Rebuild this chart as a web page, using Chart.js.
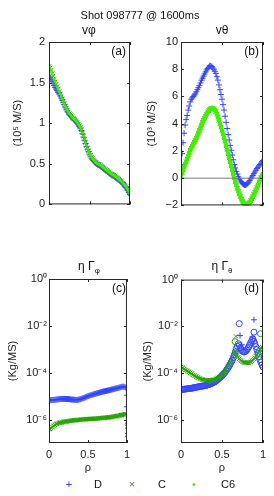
<!DOCTYPE html>
<html lang="en">
<head>
    <meta charset="UTF-8">
    <title>Shot 098777 @ 1600ms</title>
    <script src="https://cdn.jsdelivr.net/npm/chart.js"></script>
    <style>
        body {
            margin: 0;
            background: #fff;
            font-family: "Liberation Sans", Arial, sans-serif;
            color: #000;
            -webkit-font-smoothing: antialiased;
        }
        #page {
            position: relative;
            width: 274px;
            height: 496px;
            overflow: hidden;
        }
        canvas, .txt {
            position: absolute;
        }
        .txt {
            white-space: nowrap;
            line-height: 14px;
            height: 14px;
            color: #111;
            will-change: transform;
        }
        .ttl {
            font-size: 12px;
            width: 120px;
            text-align: center;
        }
        .tag {
            font-size: 12px;
            width: 30px;
            text-align: right;
        }
        .leg {
            font-size: 11px;
            width: 30px;
            text-align: center;
        }
        sub { font-size: 8px; vertical-align: -3px; line-height: 0; }
    </style>
</head>
<body>
<div id="page">
    <div class="txt ttl" style="left:80px;top:8px;width:120px;font-size:11px">Shot 098777 @ 1600ms</div>
    <div class="txt ttl" style="left:29px;top:23px">vφ</div>
    <div class="txt ttl" style="left:162px;top:23px">vθ</div>
    <div class="txt ttl" style="left:29px;top:259px">η Γ<sub>φ</sub></div>
    <div class="txt ttl" style="left:162px;top:259px">η Γ<sub>θ</sub></div>

    <canvas id="cA" width="135" height="185" style="left:0;top:30px"></canvas>
    <canvas id="cB" width="139" height="185" style="left:135px;top:30px"></canvas>
    <canvas id="cC" width="135" height="206" style="left:0;top:270px"></canvas>
    <canvas id="cD" width="139" height="206" style="left:135px;top:270px"></canvas>

    <div class="txt tag" style="left:96px;top:44px">(a)</div>
    <div class="txt tag" style="left:229px;top:44px">(b)</div>
    <div class="txt tag" style="left:96px;top:281px">(c)</div>
    <div class="txt tag" style="left:229px;top:281px">(d)</div>

    <div class="txt leg" style="left:54px;top:477px;color:#3344ff">+</div>
    <div class="txt leg" style="left:83px;top:477px">D</div>
    <div class="txt leg" style="left:117px;top:477px;color:#22a300">×</div>
    <div class="txt leg" style="left:147px;top:477px">C</div>
    <div class="txt leg" style="left:179px;top:477px;color:#44ee00">•</div>
    <div class="txt leg" style="left:213px;top:477px">C6</div>
</div>

<script>
    // radial coordinate (rho) shared by the profiles
    const rho = [0, 0.0125, 0.025, 0.0375, 0.05, 0.0625, 0.075, 0.0875, 0.1, 0.1125, 0.125, 0.1375, 0.15, 0.1625,
        0.175, 0.1875, 0.2, 0.2125, 0.225, 0.2375, 0.25, 0.2625, 0.275, 0.2875, 0.3, 0.3125, 0.325, 0.3375, 0.35,
        0.3625, 0.375, 0.3875, 0.4, 0.4125, 0.425, 0.4375, 0.45, 0.4625, 0.475, 0.4875, 0.5, 0.5125, 0.525, 0.5375,
        0.55, 0.5625, 0.575, 0.5875, 0.6, 0.6125, 0.625, 0.6375, 0.65, 0.6625, 0.675, 0.6875, 0.7, 0.7125, 0.725,
        0.7375, 0.75, 0.7625, 0.775, 0.7875, 0.8, 0.8125, 0.825, 0.8375, 0.85, 0.8625, 0.875, 0.8875, 0.9, 0.9125,
        0.925, 0.9375, 0.95, 0.9625, 0.975, 0.9875, 1.0];

    // (a) v_phi, 10^5 m/s
    const vphiD = [1.58, 1.56, 1.54, 1.515, 1.49, 1.465, 1.44, 1.42, 1.40, 1.38, 1.36, 1.335, 1.31, 1.285, 1.26, 1.23,
        1.20, 1.175, 1.15, 1.13, 1.11, 1.095, 1.08, 1.065, 1.05, 1.04, 1.03, 1.015, 1.0, 0.98, 0.96, 0.94, 0.91, 0.87,
        0.83, 0.79, 0.75, 0.715, 0.68, 0.65, 0.62, 0.595, 0.57, 0.555, 0.54, 0.525, 0.51, 0.50, 0.49, 0.485, 0.48,
        0.47, 0.46, 0.45, 0.44, 0.43, 0.42, 0.41, 0.40, 0.39, 0.38, 0.37, 0.36, 0.355, 0.35, 0.34, 0.33, 0.32, 0.31,
        0.30, 0.29, 0.28, 0.27, 0.255, 0.24, 0.225, 0.21, 0.19, 0.17, 0.145, 0.12];
    const vphiC = [1.70, 1.68, 1.65, 1.61, 1.58, 1.54, 1.51, 1.48, 1.45, 1.42, 1.39, 1.36, 1.33, 1.30, 1.27, 1.24,
        1.21, 1.185, 1.16, 1.14, 1.12, 1.105, 1.09, 1.075, 1.06, 1.05, 1.04, 1.025, 1.01, 0.99, 0.97, 0.95, 0.92, 0.88,
        0.84, 0.80, 0.76, 0.725, 0.69, 0.66, 0.63, 0.605, 0.58, 0.565, 0.55, 0.535, 0.52, 0.51, 0.50, 0.495, 0.49,
        0.48, 0.47, 0.46, 0.45, 0.44, 0.43, 0.42, 0.41, 0.40, 0.39, 0.38, 0.37, 0.365, 0.36, 0.35, 0.34, 0.33, 0.32,
        0.31, 0.30, 0.29, 0.28, 0.265, 0.25, 0.235, 0.22, 0.20, 0.18, 0.155, 0.13];
    const vphiC6 = vphiC;

    // (b) v_theta, 10^3 m/s
    const vthD = [1.0, 1.8, 2.6, 3.3, 3.9, 4.3, 4.6, 5.0, 5.3, 5.6, 5.8, 5.9, 6.0, 6.1, 6.2, 6.35, 6.5, 6.65, 6.8,
        7.0, 7.2, 7.35, 7.5, 7.65, 7.8, 7.95, 8.05, 8.15, 8.25, 8.25, 8.2, 8.1, 8.0, 7.85, 7.7, 7.45, 7.2, 6.85, 6.5,
        6.15, 5.8, 5.4, 5.0, 4.55, 4.1, 3.65, 3.2, 2.8, 2.4, 2.05, 1.7, 1.35, 1.0, 0.75, 0.5, 0.3, 0.1, -0.05, -0.2,
        -0.3, -0.4, -0.45, -0.5, -0.5, -0.45, -0.4, -0.3, -0.18, -0.05, 0.08, 0.2, 0.33, 0.45, 0.58, 0.7, 0.8, 0.9,
        1.0, 1.1, 1.2, 1.3];
    const vthC = [0.2, 0.4, 0.6, 0.8, 1.0, 1.2, 1.4, 1.6, 1.85, 2.05, 2.2, 2.35, 2.5, 2.65, 2.8, 2.95, 3.1, 3.3, 3.5,
        3.7, 3.9, 4.1, 4.25, 4.4, 4.55, 4.7, 4.85, 4.95, 5.05, 5.1, 5.15, 5.15, 5.1, 5.0, 4.9, 4.7, 4.5, 4.25, 4.0,
        3.75, 3.5, 3.25, 2.95, 2.7, 2.4, 2.1, 1.8, 1.5, 1.2, 0.9, 0.6, 0.3, 0.0, -0.25, -0.5, -0.75, -0.95, -1.15,
        -1.35, -1.55, -1.7, -1.8, -1.9, -1.95, -1.95, -1.9, -1.85, -1.75, -1.65, -1.5, -1.35, -1.2, -1.05, -0.9,
        -0.7, -0.5, -0.3, -0.12, 0.05, 0.18, 0.3];
    const vthC6 = vthC;
    const zeroX = [0, 1];
    const zeroY = [0, 0];

    // (c) eta Gamma_phi, kg/(m s)
    const gphiD = [7.0e-6, 6.9e-6, 6.8e-6, 6.85e-6, 6.9e-6, 6.95e-6, 7.0e-6, 7.1e-6, 7.2e-6, 7.3e-6, 7.4e-6, 7.5e-6,
        7.6e-6, 7.6e-6, 7.6e-6, 7.6e-6, 7.6e-6, 7.55e-6, 7.5e-6, 7.5e-6, 7.5e-6, 7.4e-6, 7.3e-6, 7.2e-6, 7.1e-6,
        7.05e-6, 7.0e-6, 6.95e-6, 6.9e-6, 6.95e-6, 7.0e-6, 7.2e-6, 7.4e-6, 7.6e-6, 7.9e-6, 8.2e-6, 8.5e-6, 8.8e-6,
        9.2e-6, 9.6e-6, 1.0e-5, 1.03e-5, 1.07e-5, 1.1e-5, 1.13e-5, 1.16e-5, 1.2e-5, 1.24e-5, 1.28e-5, 1.31e-5,
        1.35e-5, 1.38e-5, 1.42e-5, 1.46e-5, 1.5e-5, 1.54e-5, 1.58e-5, 1.61e-5, 1.65e-5, 1.68e-5, 1.72e-5, 1.76e-5,
        1.8e-5, 1.85e-5, 1.9e-5, 1.95e-5, 2.0e-5, 2.05e-5, 2.1e-5, 2.15e-5, 2.2e-5, 2.25e-5, 2.3e-5, 2.38e-5,
        2.45e-5, 2.5e-5, 2.55e-5, 2.5e-5, 2.4e-5, 2.3e-5, 1.1e-5];
    const gphiC = [3.8e-7, 4.0e-7, 4.3e-7, 4.7e-7, 5.1e-7, 5.5e-7, 5.9e-7, 6.3e-7, 6.6e-7, 6.9e-7, 7.1e-7, 7.3e-7,
        7.5e-7, 7.65e-7, 7.8e-7, 7.9e-7, 8.0e-7, 8.15e-7, 8.3e-7, 8.45e-7, 8.6e-7, 8.75e-7, 8.9e-7, 9.0e-7, 9.1e-7,
        9.2e-7, 9.3e-7, 9.4e-7, 9.5e-7, 9.6e-7, 9.7e-7, 9.8e-7, 9.9e-7, 9.95e-7, 1.0e-6, 1.01e-6, 1.02e-6, 1.03e-6,
        1.04e-6, 1.045e-6, 1.05e-6, 1.055e-6, 1.06e-6, 1.065e-6, 1.07e-6, 1.08e-6, 1.09e-6, 1.095e-6, 1.1e-6,
        1.11e-6, 1.12e-6, 1.13e-6, 1.14e-6, 1.15e-6, 1.16e-6, 1.17e-6, 1.18e-6, 1.19e-6, 1.2e-6, 1.21e-6, 1.22e-6,
        1.235e-6, 1.25e-6, 1.265e-6, 1.28e-6, 1.3e-6, 1.32e-6, 1.34e-6, 1.36e-6, 1.39e-6, 1.42e-6, 1.45e-6, 1.48e-6,
        1.52e-6, 1.55e-6, 1.58e-6, 1.62e-6, 1.66e-6, 1.7e-6, 1.72e-6, 8.0e-7];
    const gphiDEdgeX = [1.0];
    const gphiDEdgeY = [3.5e-6];
    const gphiCEdgeX = [1.0, 1.0];
    const gphiCEdgeY = [5.0e-7, 2.2e-7];

    // (d) eta Gamma_theta, kg/(m s)
    const gthD = [2.0e-5, 2.0e-5, 2.0e-5, 2.02e-5, 2.05e-5, 2.07e-5, 2.1e-5, 2.12e-5, 2.15e-5, 2.17e-5, 2.2e-5,
        2.25e-5, 2.3e-5, 2.35e-5, 2.4e-5, 2.45e-5, 2.5e-5, 2.55e-5, 2.6e-5, 2.65e-5, 2.7e-5, 2.75e-5, 2.8e-5,
        2.85e-5, 2.9e-5, 3.0e-5, 3.1e-5, 3.2e-5, 3.3e-5, 3.45e-5, 3.6e-5, 3.8e-5, 4.0e-5, 4.2e-5, 4.5e-5, 4.9e-5,
        5.3e-5, 5.8e-5, 6.3e-5, 6.9e-5, 7.6e-5, 8.5e-5, 9.5e-5, 1.08e-4, 1.25e-4, 1.45e-4, 1.7e-4, 2.0e-4, 2.4e-4,
        2.9e-4, 3.5e-4, 4.5e-4, 6.0e-4, 8.0e-4, 1.1e-3, 1.4e-3, 1.8e-3, 1.5e-3, 1.2e-3, 1.0e-3, 8.5e-4, 8.0e-4,
        8.0e-4, 8.5e-4, 9.5e-4, 1.1e-3, 1.3e-3, 1.6e-3, 2.0e-3, 2.4e-3, 2.9e-3, 2.3e-3, 1.8e-3, 1.35e-3, 1.0e-3,
        7.0e-4, 5.0e-4, 3.7e-4, 2.8e-4, 2.2e-4, 1.8e-4];
    const gthC = [1.8e-4, 1.7e-4, 1.6e-4, 1.5e-4, 1.4e-4, 1.32e-4, 1.25e-4, 1.17e-4, 1.1e-4, 1.02e-4, 9.5e-5, 8.9e-5,
        8.3e-5, 7.8e-5, 7.3e-5, 6.9e-5, 6.5e-5, 6.2e-5, 5.9e-5, 5.6e-5, 5.4e-5, 5.25e-5, 5.1e-5, 5.0e-5, 4.9e-5,
        4.85e-5, 4.8e-5, 4.8e-5, 4.8e-5, 4.85e-5, 4.9e-5, 5.0e-5, 5.1e-5, 5.3e-5, 5.5e-5, 5.8e-5, 6.2e-5, 6.7e-5,
        7.2e-5, 7.9e-5, 8.6e-5, 9.5e-5, 1.05e-4, 1.2e-4, 1.4e-4, 1.6e-4, 1.9e-4, 2.3e-4, 2.8e-4, 3.5e-4, 4.5e-4,
        6.0e-4, 8.0e-4, 8.0e-4, 7.0e-4, 5.8e-4, 4.8e-4, 4.1e-4, 3.6e-4, 3.3e-4, 3.0e-4, 2.9e-4, 2.8e-4, 2.75e-4,
        2.7e-4, 2.75e-4, 2.8e-4, 2.9e-4, 3.0e-4, 3.3e-4, 3.6e-4, 4.0e-4, 4.5e-4, 5.2e-4, 6.0e-4, 7.2e-4, 8.5e-4,
        1.0e-3, 1.2e-3, 9.0e-4, 6.0e-4];
    const gthDCircX = [0.71, 0.89];
    const gthDCircY = [1.3e-2, 5.6e-3];
    const gthDPlusX = [0.72, 0.74, 0.87, 0.89];
    const gthDPlusY = [4.0e-3, 1.6e-3, 3.5e-3, 1.9e-2];
    const gthCCircX = [0.66, 0.97];
    const gthCCircY = [2.2e-3, 4.8e-3];
    const gthCExtraX = [0.67, 0.99];
    const gthCExtraY = [3.7e-3, 1.3e-3];

    // tick labels
    const xTicks = [0, 0.5, 1];
    const aTicks = [0, 0.5, 1, 1.5, 2];
    const bTicks = [-2, 0, 2, 4, 6, 8, 10];
    const logTicks = [1e-6, 1e-4, 1e-2, 1];

    const blue = '#3344ff';
    const green = '#22a300';
    const lime = '#44ee00';

    Chart.defaults.font.family = '"Liberation Sans", Arial, sans-serif';
    Chart.defaults.font.size = 11;
    Chart.defaults.color = '#222';

    function pts(xs, ys) {
        return xs.map((x, i) => ({x: x, y: ys[i]}));
    }

    function ds(data, color, style, r) {
        return {
            data: data,
            borderColor: color,
            backgroundColor: style === 'dot' ? color : 'rgba(0,0,0,0)',
            pointStyle: style === 'dot' ? 'circle' : style,
            pointRadius: r,
            pointBorderWidth: 1,
            showLine: false
        };
    }

    const sup = {'0': '⁰', '1': '¹', '2': '²', '3': '³', '4': '⁴', '5': '⁵', '6': '⁶', '7': '⁷', '8': '⁸', '9': '⁹', '-': '⁻'};
    function logLabel(v) {
        const e = String(Math.round(Math.log10(v)));
        return '10' + e.split('').map(c => sup[c]).join('');
    }

    // box round the plot area, with ticks pointing inwards
    const framePlugin = {
        id: 'frame',
        afterDatasetsDraw(chart) {
            const {ctx, chartArea: a, scales} = chart;
            ctx.save();
            ctx.strokeStyle = '#262626';
            ctx.lineWidth = 1;
            ctx.strokeRect(a.left + 0.5, a.top + 0.5, a.right - a.left - 1, a.bottom - a.top - 1);
            ctx.beginPath();
            scales.x.ticks.forEach(t => {
                const px = Math.round(scales.x.getPixelForValue(t.value)) + 0.5;
                ctx.moveTo(px, a.bottom); ctx.lineTo(px, a.bottom - 3);
                ctx.moveTo(px, a.top); ctx.lineTo(px, a.top + 3);
            });
            scales.y.ticks.forEach(t => {
                const py = Math.round(scales.y.getPixelForValue(t.value)) + 0.5;
                ctx.moveTo(a.left, py); ctx.lineTo(a.left + 3, py);
                ctx.moveTo(a.right, py); ctx.lineTo(a.right - 3, py);
            });
            ctx.stroke();
            ctx.restore();
        }
    };

    function makePanel(id, datasets, o) {
        const yScale = {
            type: o.log ? 'logarithmic' : 'linear',
            min: o.ymin,
            max: o.ymax,
            grid: {display: false, drawTicks: false},
            border: {display: false},
            afterBuildTicks: s => { s.ticks = o.yTicks.map(v => ({value: v})); },
            afterFit: s => { s.width = o.yWidth; },
            ticks: {
                padding: o.yPad,
                callback: o.log ? logLabel : (v => String(v).replace('-', '−'))
            },
            title: {display: true, text: o.yTitle, padding: {top: o.titlePad, bottom: 0}}
        };
        const xScale = {
            type: 'linear',
            min: 0,
            max: 1,
            grid: {display: false, drawTicks: false},
            border: {display: false},
            afterBuildTicks: s => { s.ticks = xTicks.map(v => ({value: v})); },
            afterFit: s => { s.height = o.xHeight; },
            ticks: {display: o.xLabels, padding: 5, callback: v => String(v)},
            title: {display: o.xLabels, text: 'ρ', padding: {top: 0, bottom: 1}}
        };
        return new Chart(document.getElementById(id), {
            type: 'scatter',
            data: {datasets: datasets},
            options: {
                responsive: false,
                animation: false,
                layout: {padding: {top: o.padTop, right: o.padRight, left: 0, bottom: 0}},
                plugins: {legend: {display: false}, tooltip: {enabled: false}},
                scales: {x: xScale, y: yScale}
            },
            plugins: [framePlugin]
        });
    }

    makePanel('cA', [
        ds(pts(rho, vphiC6), lime, 'dot', 1),
        ds(pts(rho, vphiC), green, 'crossRot', 3),
        ds(pts(rho, vphiD), blue, 'cross', 3)
    ], {ymin: 0, ymax: 2, yTicks: aTicks, yWidth: 49, yPad: 4, yTitle: '(10⁵ M/S)', titlePad: 11,
        xHeight: 8, xLabels: false, padTop: 12, padRight: 5});

    makePanel('cB', [
        {data: pts(zeroX, zeroY), borderColor: '#777', borderWidth: 1, pointRadius: 0, showLine: true},
        ds(pts(rho, vthC6), lime, 'dot', 2),
        ds(pts(rho, vthC), green, 'crossRot', 3),
        ds(pts(rho, vthD), blue, 'cross', 3)
    ], {ymin: -2, ymax: 10, yTicks: bTicks, yWidth: 46, yPad: 3, yTitle: '(10³ M/S)', titlePad: 10.5,
        xHeight: 8, xLabels: false, padTop: 12, padRight: 11});

    makePanel('cC', [
        ds(pts(rho, gphiC), green, 'crossRot', 3),
        ds(pts(gphiCEdgeX, gphiCEdgeY), green, 'crossRot', 3),
        ds(pts(rho, gphiD), blue, 'cross', 3),
        ds(pts(gphiDEdgeX, gphiDEdgeY), blue, 'cross', 3)
    ], {log: true, ymin: 1e-7, ymax: 1, yTicks: logTicks, yWidth: 49, yPad: 2, yTitle: '(Kg/MS)', titlePad: 6.5,
        xHeight: 33, xLabels: true, padTop: 9, padRight: 5});

    makePanel('cD', [
        ds(pts(rho, gthC), green, 'crossRot', 3),
        ds(pts(gthCCircX, gthCCircY), green, 'circle', 3),
        ds(pts(gthCExtraX, gthCExtraY), green, 'crossRot', 3),
        ds(pts(rho, gthD), blue, 'circle', 3),
        ds(pts(gthDCircX, gthDCircY), blue, 'circle', 3),
        ds(pts(gthDPlusX, gthDPlusY), blue, 'cross', 3)
    ], {log: true, ymin: 1e-7, ymax: 1, yTicks: logTicks, yWidth: 46, yPad: 3, yTitle: '(Kg/MS)', titlePad: 6.5,
        xHeight: 33, xLabels: true, padTop: 9, padRight: 11});
</script>
</body>
</html>
